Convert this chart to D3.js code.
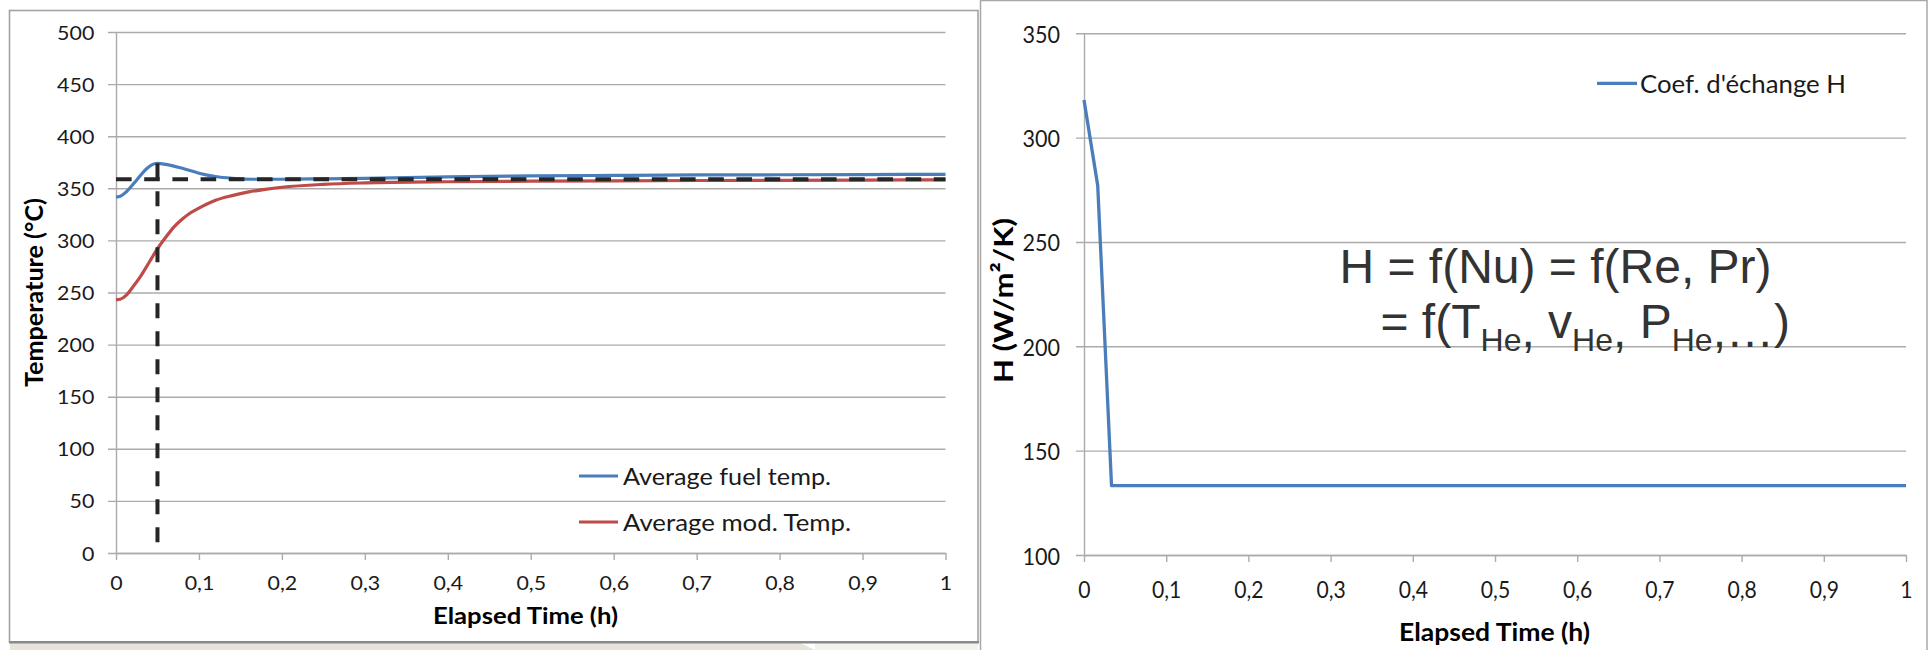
<!DOCTYPE html>
<html><head><meta charset="utf-8">
<script src="https://cdn.jsdelivr.net/npm/d3@7"></script>
<style>
html,body{margin:0;padding:0;background:#fff;}
svg{display:block;}
</style></head><body>
<svg id="c" width="1932" height="650"></svg>
<script>
// ---------- data ----------
const timeFuel = [0, 0.005, 0.0125, 0.025, 0.0375, 0.045, 0.05, 0.06, 0.08, 0.10, 0.12, 0.14, 0.165, 0.2, 0.25, 0.3, 0.4, 0.5, 0.6, 0.7, 0.8, 0.9, 1.0];
const fuelTemp = [341.5, 342.3, 346.7, 358, 369.3, 373.2, 374, 373, 369.2, 364.5, 361.3, 359.6, 358.7, 358.7, 359.1, 359.6, 361, 361.9, 362.4, 362.8, 363, 363.2, 363.4];
const timeMod  = [0, 0.005, 0.0125, 0.02, 0.03, 0.04, 0.05, 0.06, 0.07, 0.08, 0.09, 0.10, 0.12, 0.14, 0.16, 0.18, 0.2, 0.25, 0.3, 0.4, 0.5, 0.6, 0.7, 0.8, 0.9, 1.0];
const modTemp  = [243, 243.5, 247.5, 255, 266, 279, 292, 303, 313, 320.5, 326.5, 331, 338.5, 343, 346.5, 349, 351, 353.8, 355.2, 356.3, 356.8, 357.2, 357.5, 357.7, 357.9, 358.1];
const peakTime = 0.05, peakTemp = 374, steadyTemp = 358.6, floorTemp = 0;
const timeH  = [0, 0.0167, 0.0335, 0.1, 0.2, 0.3, 0.4, 0.5, 0.6, 0.7, 0.8, 0.9, 1.0];
const hCoef  = [318, 277, 133.2, 133.2, 133.2, 133.2, 133.2, 133.2, 133.2, 133.2, 133.2, 133.2, 133.2];
const tempTicks = [0, 50, 100, 150, 200, 250, 300, 350, 400, 450, 500];
const hTicks = [100, 150, 200, 250, 300, 350];
const timeTicks = [0, 0.1, 0.2, 0.3, 0.4, 0.5, 0.6, 0.7, 0.8, 0.9, 1];
const tempSeries = ["Average fuel temp.", "Average mod. Temp."];
const hSeries = ["Coef. d'échange H"];
const xTitle = "Elapsed Time (h)";
const yTitleL = "Temperature (°C)";
const yTitleR = "H (W/m²/K)";

// ---------- style ----------
const FONT = "Lato, 'Open Sans', sans-serif";
const ARIAL = "'Liberation Sans', Arial, sans-serif";
const GRID = "#ababab";
const BLUE = "#4a7ebb", RED = "#be4b48";
const fmtDec = d => String(d).replace(".", ",");

const svg = d3.select("#c");

// background frames
svg.append("rect").attr("x", 10).attr("y", 643).attr("width", 790).attr("height", 7).attr("fill", "#e8e4dc");
svg.append("polygon").attr("points", "800,643 815,650 800,650").attr("fill", "#e8e4dc");
svg.append("rect").attr("x", 815).attr("y", 643).attr("width", 163).attr("height", 7).attr("fill", "#f4f2ee");
svg.append("rect").attr("x", 9.5).attr("y", 10.5).attr("width", 968.5).attr("height", 631.5)
  .attr("fill", "#fff").attr("stroke", "#a3a3a3").attr("stroke-width", 1.6);
svg.append("line").attr("x1", 9).attr("x2", 979).attr("y1", 642.3).attr("y2", 642.3).attr("stroke", "#8a8a8a").attr("stroke-width", 2.4);
svg.append("rect").attr("x", 980.5).attr("y", 0.5).attr("width", 946.5).attr("height", 670)
  .attr("fill", "#fff").attr("stroke", "#a8a8a8").attr("stroke-width", 1.5);

// ---------- scales ----------
const xL = d3.scaleLinear().domain([0, 1]).range([116, 945.5]);
const yL = d3.scaleLinear().domain([0, 500]).range([553, 32]);
const xR = d3.scaleLinear().domain([0, 1]).range([1084, 1906]);
const yR = d3.scaleLinear().domain([100, 350]).range([555, 33.3]);

function yAxis(x, y, ticks, fmt, labelOff, baseOff, sx, fs) {
  const w = x.range()[1] - x.range()[0];
  const g = svg.append("g").attr("transform", `translate(${x.range()[0]},0)`)
    .call(d3.axisLeft(y).tickValues(ticks).tickSize(-w).tickSizeOuter(0).tickFormat(fmt));
  g.select(".domain").attr("stroke", GRID).attr("stroke-width", 1.4);
  g.selectAll(".tick line").attr("x1", -8).attr("stroke", GRID).attr("stroke-width", 1.4);
  g.attr("font-family", FONT).attr("font-size", fs);
  g.selectAll(".tick text").attr("x", 0).attr("dy", null).attr("fill", "#1a1a1a")
    .attr("transform", `translate(${-labelOff},${baseOff}) scale(${sx},1)`);
  return g;
}
function xAxis(x, y0, ticks, fmt, baseOff, sx, fs) {
  const g = svg.append("g").attr("transform", `translate(0,${y0})`)
    .call(d3.axisBottom(x).tickValues(ticks).tickSize(7).tickSizeOuter(0).tickFormat(fmt));
  g.select(".domain").attr("stroke", GRID).attr("stroke-width", 1.4);
  g.selectAll(".tick line").attr("stroke", GRID).attr("stroke-width", 1.4);
  g.attr("font-family", FONT).attr("font-size", fs);
  g.selectAll(".tick text").attr("y", 0).attr("dy", null).attr("fill", "#1a1a1a")
    .attr("transform", `translate(0,${baseOff}) scale(${sx},1)`);
  return g;
}

// ---------- left chart ----------
yAxis(xL, yL, tempTicks, d3.format("d"), 21.7, 7, 1.15, 18.6);
xAxis(xL, yL(0), timeTicks, fmtDec, 37, 1.15, 18.6);

const lineL = d3.line().x(d => xL(d[0])).y(d => yL(d[1])).curve(d3.curveMonotoneX);
svg.append("path").datum(d3.zip(timeMod, modTemp)).attr("d", lineL)
  .attr("fill", "none").attr("stroke", RED).attr("stroke-width", 3.2).attr("stroke-linejoin", "round");
svg.append("path").datum(d3.zip(timeFuel, fuelTemp)).attr("d", lineL)
  .attr("fill", "none").attr("stroke", BLUE).attr("stroke-width", 3.2).attr("stroke-linejoin", "round");

const lineLin = d3.line().x(d => xL(d[0])).y(d => yL(d[1]));
svg.append("path").datum([[0, steadyTemp], [1, steadyTemp]]).attr("d", lineLin)
  .attr("fill", "none").attr("stroke", "#262626").attr("stroke-width", 4).attr("stroke-dasharray", "15.6,12.6");
svg.append("path").datum([[peakTime, peakTemp], [peakTime, floorTemp]]).attr("d", lineLin)
  .attr("fill", "none").attr("stroke", "#262626").attr("stroke-width", 4).attr("stroke-dasharray", "15,13");

// legend left
const legL = [[476, 484.5, 208], [522, 530.7, 228]];
tempSeries.forEach((name, i) => {
  svg.append("line").attr("x1", 579).attr("x2", 618).attr("y1", legL[i][0]).attr("y2", legL[i][0])
    .attr("stroke", i === 0 ? BLUE : RED).attr("stroke-width", 3.2);
  svg.append("text").attr("x", 623).attr("y", legL[i][1]).attr("font-family", FONT).attr("font-size", 24)
    .attr("fill", "#1a1a1a").attr("textLength", legL[i][2]).attr("lengthAdjust", "spacingAndGlyphs").text(name);
});

// titles left
svg.append("text").attr("x", 525.5).attr("y", 624).attr("text-anchor", "middle")
  .attr("font-family", FONT).attr("font-weight", "bold").attr("font-size", 22).attr("fill", "#000")
  .attr("textLength", 185).attr("lengthAdjust", "spacingAndGlyphs").text(xTitle);
svg.append("text").attr("transform", "translate(42.7,292.5) scale(1.13,1) rotate(-90)").attr("text-anchor", "middle")
  .attr("font-family", FONT).attr("font-weight", "bold").attr("font-size", 22).attr("fill", "#000")
  .attr("textLength", 189).attr("lengthAdjust", "spacingAndGlyphs").text(yTitleL);

// ---------- right chart ----------
yAxis(xR, yR, hTicks, d3.format("d"), 24, 9, 0.92, 23.5);
xAxis(xR, yR(100), timeTicks, fmtDec, 43.3, 0.92, 23);

const lineR = d3.line().x(d => xR(d[0])).y(d => yR(d[1]));
svg.append("path").datum(d3.zip(timeH, hCoef)).attr("d", lineR)
  .attr("fill", "none").attr("stroke", BLUE).attr("stroke-width", 3.3).attr("stroke-linejoin", "round");

// legend right
svg.append("line").attr("x1", 1597).attr("x2", 1637).attr("y1", 83.3).attr("y2", 83.3)
  .attr("stroke", BLUE).attr("stroke-width", 3.3);
svg.append("text").attr("x", 1640).attr("y", 93.3).attr("font-family", FONT).attr("font-size", 25.5)
  .attr("fill", "#1a1a1a").attr("textLength", 206).attr("lengthAdjust", "spacingAndGlyphs").text(hSeries[0]);

// titles right
svg.append("text").attr("x", 1494.5).attr("y", 640.7).attr("text-anchor", "middle")
  .attr("font-family", FONT).attr("font-weight", "bold").attr("font-size", 25.6).attr("fill", "#000")
  .attr("textLength", 191).attr("lengthAdjust", "spacingAndGlyphs").text(xTitle);
svg.append("text").attr("transform", "translate(1013.3,300.5) scale(1.1,1) rotate(-90)").attr("text-anchor", "middle")
  .attr("font-family", FONT).attr("font-weight", "bold").attr("font-size", 25).attr("fill", "#000")
  .attr("textLength", 165).attr("lengthAdjust", "spacingAndGlyphs").text(yTitleR);

// annotation
const ann = svg.append("text").attr("font-family", ARIAL).attr("font-size", 48).attr("fill", "#333")
  .style("white-space", "pre");
ann.append("tspan").attr("x", 1339.5).attr("y", 283.3).text("H = f(Nu) = f(Re, Pr)");
ann.append("tspan").attr("x", 1380.5).attr("y", 338.3).text("= f(T");
const parts = [[", v"], [", P"], [",…)"]];
parts.forEach((p, i) => {
  ann.append("tspan").attr("font-size", 32).attr("dy", 13).text("He");
  if (i < 2) {
    ann.append("tspan").attr("dy", -4).text(",");
    ann.append("tspan").attr("dy", -9).text(p[0].slice(1));
  } else {
    ann.append("tspan").attr("dy", -4).text(",…");
    ann.append("tspan").attr("dy", -9).text(")");
  }
});
</script>
</body></html>
